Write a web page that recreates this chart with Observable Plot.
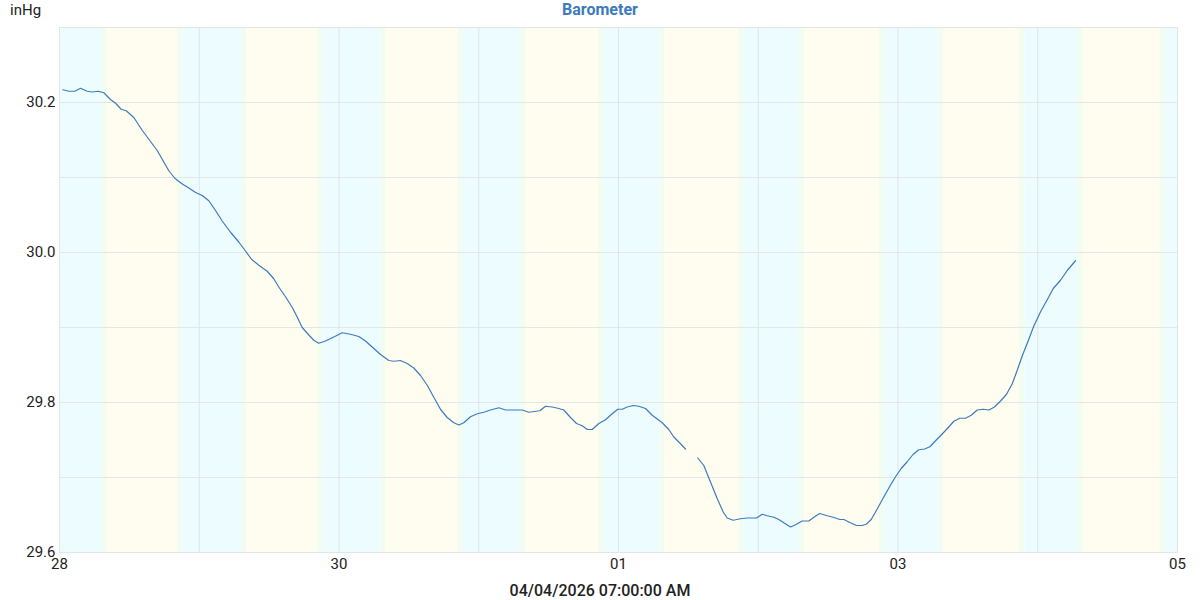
<!DOCTYPE html>
<html>
<head>
<meta charset="utf-8">
<script src="https://cdn.jsdelivr.net/npm/d3@7"></script>
<script src="https://cdn.jsdelivr.net/npm/@observablehq/plot@0.6"></script>
<style>
  body { margin: 0; background: #fff; font-family: Roboto, "Noto Sans", sans-serif; }
  #wrap { position: relative; width: 1200px; height: 600px; overflow: hidden; }
  #chart { position: absolute; left: 0; top: 0; }
  #title { position: absolute; top: 0; left: 0; width: 1200px; text-align: center; font-weight: bold; color: #3b7bbb; font-size: 16px; line-height: 20px; }
  #unit { position: absolute; top: 0; left: 10px; font-size: 15px; line-height: 20px; color: #222; }
  #foot { position: absolute; top: 583px; left: 0; width: 1200px; text-align: center; font-size: 16px; line-height: 16px; color: #222; font-weight: 500; }
</style>
</head>
<body>
<div id="wrap">
  <div id="chart"></div>
  <div id="unit">inHg</div>
  <div id="title">Barometer</div>
  <div id="foot">04/04/2026 07:00:00 AM</div>
</div>
<script>
// Hours since 2026-03-28 00:00 and barometric pressure (inHg); null = missing data gap
const hours = [0.57,1.60,2.63,3.61,4.76,5.62,6.65,7.61,8.76,9.62,10.60,11.46,12.76,14.20,15.63,16.78,17.74,18.77,19.80,20.95,22.21,23.36,24.51,25.64,26.79,27.94,29.37,30.79,31.94,32.97,34.23,35.67,36.80,37.66,38.81,39.96,40.82,41.68,42.82,43.67,44.53,45.68,47.28,48.55,49.98,51.40,52.55,53.70,55.13,56.55,57.41,58.56,59.71,60.85,62.00,63.15,64.28,65.43,66.58,67.72,68.58,69.43,70.58,71.74,72.87,74.02,75.45,76.60,78.02,79.46,80.60,82.49,83.46,84.61,85.75,86.61,87.76,88.79,89.77,90.63,91.49,92.62,93.77,94.92,95.88,96.64,97.50,98.53,99.49,100.64,101.79,103.51,104.64,105.50,106.65,107.51,108.50,109.62,110.65,111.80,112.95,113.98,114.67,115.70,116.95,118.10,119.70,120.68,121.54,122.67,123.53,124.51,125.54,126.40,127.55,128.69,129.55,130.57,131.84,132.87,134.01,134.70,135.73,136.88,137.86,138.59,139.40,140.43,141.56,142.72,143.58,144.55,145.58,146.61,147.58,148.56,149.47,150.45,151.59,152.56,153.59,154.62,155.60,156.57,157.60,158.64,159.60,160.58,161.61,162.64,163.62,164.48,165.33,166.30,167.33,168.48,169.63,170.66,171.91,173.06,174.49];
const pressure = [30.217,30.215,30.215,30.219,30.215,30.214,30.215,30.213,30.204,30.199,30.191,30.189,30.180,30.163,30.148,30.136,30.123,30.109,30.099,30.092,30.086,30.080,30.076,30.069,30.056,30.042,30.027,30.014,30.002,29.991,29.983,29.975,29.965,29.954,29.941,29.927,29.914,29.900,29.890,29.883,29.879,29.882,29.888,29.893,29.891,29.888,29.882,29.874,29.864,29.856,29.855,29.856,29.852,29.846,29.836,29.823,29.807,29.791,29.780,29.773,29.770,29.773,29.781,29.785,29.787,29.790,29.793,29.790,29.790,29.790,29.787,29.789,29.795,29.794,29.792,29.790,29.780,29.772,29.769,29.764,29.764,29.772,29.777,29.785,29.791,29.791,29.794,29.796,29.795,29.792,29.783,29.773,29.764,29.754,29.745,29.738,null,29.726,29.716,29.694,29.672,29.654,29.646,29.643,29.645,29.646,29.646,29.651,29.649,29.647,29.644,29.639,29.634,29.637,29.642,29.642,29.647,29.652,29.649,29.647,29.644,29.644,29.640,29.636,29.636,29.638,29.644,29.658,29.674,29.690,29.701,29.712,29.721,29.731,29.737,29.738,29.741,29.749,29.758,29.766,29.775,29.779,29.779,29.783,29.790,29.791,29.790,29.794,29.802,29.811,29.825,29.843,29.862,29.881,29.902,29.921,29.937,29.952,29.963,29.976,29.989];

// Days shown, and daily twilight / sun times (local clock)
const days = ["2026-03-28","2026-03-29","2026-03-30","2026-03-31","2026-04-01","2026-04-02","2026-04-03","2026-04-04"];
const dawnTimes    = ["07:18","07:15","07:12","07:09","07:06","07:03","07:00","06:57"];
const sunriseTimes = ["08:10","08:07","08:04","08:01","07:58","07:55","07:52","07:49"];
const sunsetTimes  = ["20:15","20:22","20:28","20:35","20:41","20:48","20:54","21:00"];
const duskTimes    = ["21:10","21:17","21:23","21:30","21:36","21:43","21:49","21:55"];

const xTickDays = ["2026-03-28","2026-03-30","2026-04-01","2026-04-03","2026-04-05"];
const gridDays = ["2026-03-28","2026-03-29","2026-03-30","2026-03-31","2026-04-01","2026-04-02","2026-04-03","2026-04-04","2026-04-05"];
const yTicks = [29.6, 29.8, 30.0, 30.2];
const yGrid = [29.6, 29.7, 29.8, 29.9, 30.0, 30.1, 30.2, 30.3];

const start = Date.UTC(2026, 2, 28);
const data = hours.map((h, i) => ({ date: new Date(start + h * 3600e3), value: pressure[i] }));

const at = (day, hm) => new Date(day + "T" + hm + ":00Z");
const nextDay = d => new Date(Date.parse(d + "T00:00:00Z") + 86400e3);
const bands = [];
days.forEach((d, i) => {
  bands.push({ x1: at(d, "00:00"), x2: at(d, dawnTimes[i]), kind: "night" });
  bands.push({ x1: at(d, dawnTimes[i]), x2: at(d, sunriseTimes[i]), kind: "twilight" });
  bands.push({ x1: at(d, sunriseTimes[i]), x2: at(d, sunsetTimes[i]), kind: "day" });
  bands.push({ x1: at(d, sunsetTimes[i]), x2: at(d, duskTimes[i]), kind: "twilight" });
  bands.push({ x1: at(d, duskTimes[i]), x2: nextDay(d), kind: "night" });
});
const bandColor = { night: "#edfcfe", twilight: "#f1fdf0", day: "#fffdf0" };

const chart = Plot.plot({
  width: 1200,
  height: 600,
  marginLeft: 59,
  marginRight: 23,
  marginTop: 27,
  marginBottom: 48,
  style: { fontFamily: "Roboto, sans-serif", fontSize: "15px", color: "#222", background: "transparent" },
  x: {
    type: "utc",
    domain: [new Date(start), new Date("2026-04-05T00:00:00Z")],
    ticks: xTickDays.map(d => new Date(d + "T00:00:00Z")),
    tickFormat: d3.utcFormat("%d"),
    tickSize: 0,
    tickPadding: 6,
    label: null
  },
  y: {
    domain: [29.6, 30.3],
    ticks: yTicks,
    tickFormat: d3.format(".1f"),
    tickSize: 0,
    tickPadding: 4,
    label: null
  },
  marks: [
    Plot.rect(bands, { x1: "x1", x2: "x2", fill: d => bandColor[d.kind] }),
    Plot.ruleY(yGrid, { stroke: "#e4e6e8", strokeWidth: 1 }),
    Plot.ruleX(gridDays.map(d => new Date(d + "T00:00:00Z")), { stroke: "#e0e3e6", strokeWidth: 1 }),
    Plot.frame({ stroke: "#e2e4e6" }),
    Plot.line(data, { x: "date", y: "value", stroke: "#3d7bbf", strokeWidth: 1.2 })
  ]
});
document.getElementById("chart").appendChild(chart);
</script>
</body>
</html>
